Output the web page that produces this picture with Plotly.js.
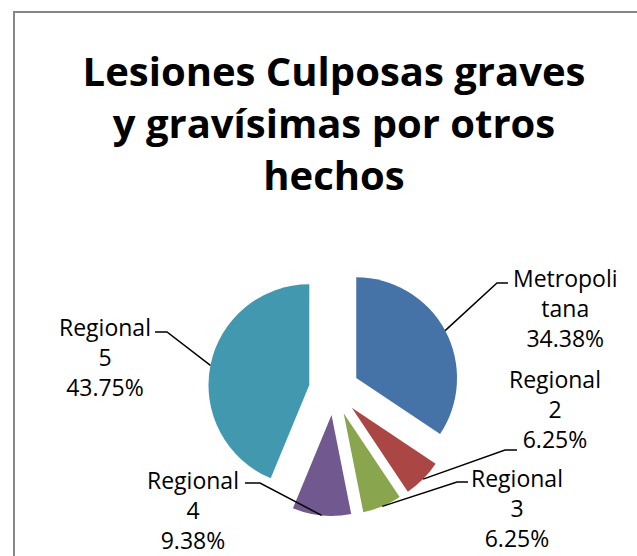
<!DOCTYPE html>
<html>
<head>
<meta charset="utf-8">
<script src="https://cdn.plot.ly/plotly-3.0.1.min.js"></script>
<style>
  html, body { margin: 0; padding: 0; background: #fff; }
  #chart { width: 637px; height: 556px; }
</style>
</head>
<body>
<div id="chart"></div>
<script>
var categories = ['Metropolitana', 'Regional 2', 'Regional 3', 'Regional 4', 'Regional 5'];
var labelText = ['Metropoli<br>tana', 'Regional<br>2', 'Regional<br>3', 'Regional<br>4', 'Regional<br>5'];
var values = [11, 2, 2, 3, 14];
var colors = ['#4572A7', '#AA4643', '#89A54E', '#71588F', '#4198AF'];

var W = 637, H = 556;
var cx = 334, cy = 390, half = 126;   // pie box in pixels
var pull = 0.25;

// where each label block sits, and the elbow of its leader line
var labelPos = [
  {x: 565, y: 308, elbow: [497, 283], end: [508, 283]},
  {x: 555, y: 409, elbow: [505, 450], end: [517, 450]},
  {x: 517, y: 508, elbow: [457, 482], end: [468, 482]},
  {x: 193, y: 510, elbow: [260, 483], end: [245, 483]},
  {x: 105, y: 357, elbow: [167, 332], end: [155, 332]}
];

function px(x) { return x / W; }
function py(y) { return 1 - y / H; }

var total = values.reduce(function(a, b) { return a + b; }, 0);

var trace = {
  type: 'pie',
  labels: categories,
  values: values,
  sort: false,
  direction: 'clockwise',
  rotation: 0,
  pull: values.map(function() { return pull; }),
  textinfo: 'none',
  hoverinfo: 'label+percent',
  marker: {colors: colors, line: {width: 0}},
  domain: {
    x: [px(cx - half), px(cx + half)],
    y: [py(cy + half), py(cy - half)]
  },
  showlegend: false
};

var annotations = [];
var shapes = [{
  type: 'rect', xref: 'paper', yref: 'paper',
  x0: px(14), x1: 1.05, y0: -0.05, y1: py(12),
  line: {color: '#868686', width: 2}
}];

var cum = 0;
values.forEach(function(v, i) {
  var mid = (cum + v / 2) / total * 2 * Math.PI;
  cum += v;
  var sx = cx + half * Math.sin(mid);
  var sy = cy - half * Math.cos(mid);
  var p = labelPos[i];
  shapes.push({
    type: 'path', xref: 'paper', yref: 'paper',
    path: 'M' + px(sx) + ',' + py(sy) + ' L' + px(p.elbow[0]) + ',' + py(p.elbow[1]) +
          ' L' + px(p.end[0]) + ',' + py(p.end[1]),
    line: {color: '#000000', width: 1.5}
  });
  annotations.push({
    xref: 'paper', yref: 'paper',
    x: px(p.x), y: py(p.y),
    xanchor: 'center', yanchor: 'middle',
    align: 'center',
    showarrow: false,
    text: labelText[i] + '<br>' + (v / total * 100).toFixed(2) + '%',
    font: {family: 'Open Sans, sans-serif', size: 23, color: '#000000'}
  });
});

var layout = {
  width: W,
  height: H,
  margin: {l: 0, r: 0, t: 0, b: 0},
  paper_bgcolor: '#ffffff',
  title: {
    text: 'Lesiones Culposas graves<br>y gravísimas por otros<br>hechos',
    font: {family: 'Open Sans, sans-serif', size: 40, weight: 'bold', color: '#000000'},
    x: px(334), xanchor: 'center',
    y: py(86), yanchor: 'middle'
  },
  annotations: annotations,
  shapes: shapes
};

Plotly.newPlot('chart', [trace], layout, {displayModeBar: false, staticPlot: true});
</script>
</body>
</html>
